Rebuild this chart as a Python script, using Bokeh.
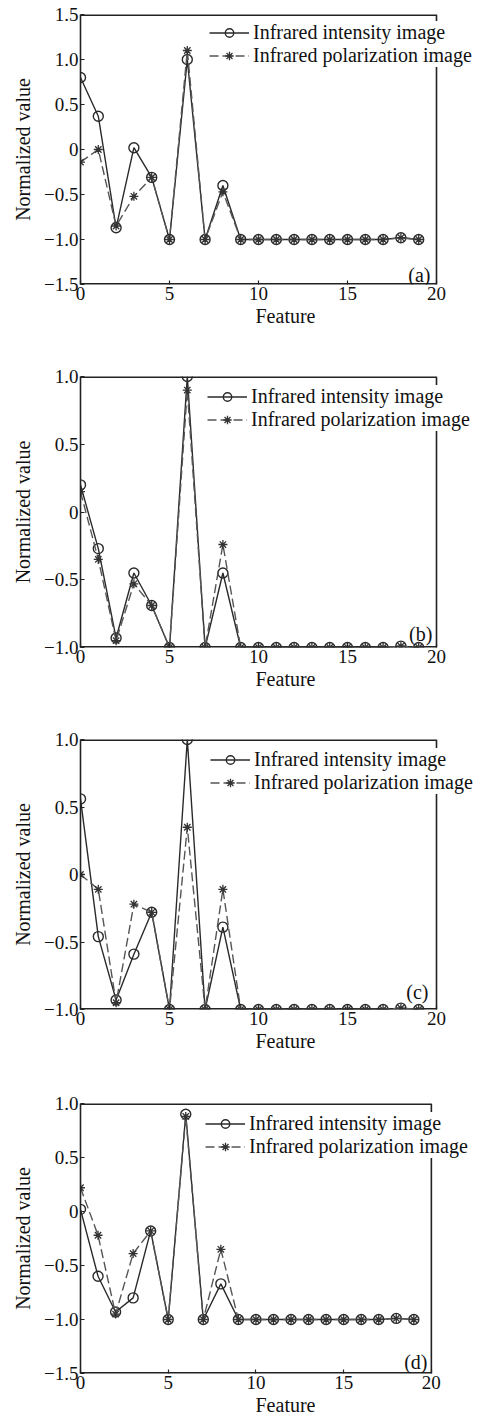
from bokeh.plotting import figure
from bokeh.layouts import column
from bokeh.models import Legend, LegendItem, Label, FixedTicker, Range1d
from bokeh.embed import file_html
from bokeh.resources import INLINE

features = list(range(20))
x_ticks = [0, 5, 10, 15, 20]

a_intensity = [0.80, 0.37, -0.87, 0.02, -0.31, -1.0, 1.0, -1.0, -0.40, -1.0,
               -1.0, -1.0, -1.0, -1.0, -1.0, -1.0, -1.0, -1.0, -0.98, -1.0]
a_polarization = [-0.14, 0.0, -0.85, -0.52, -0.31, -1.0, 1.10, -1.0, -0.47, -1.0,
                  -1.0, -1.0, -1.0, -1.0, -1.0, -1.0, -1.0, -1.0, -0.98, -1.0]

b_intensity = [0.20, -0.27, -0.93, -0.45, -0.69, -1.0, 1.0, -1.0, -0.45, -1.0,
               -1.0, -1.0, -1.0, -1.0, -1.0, -1.0, -1.0, -1.0, -0.99, -1.0]
b_polarization = [0.15, -0.35, -0.95, -0.53, -0.69, -1.0, 0.90, -1.0, -0.24, -1.0,
                  -1.0, -1.0, -1.0, -1.0, -1.0, -1.0, -1.0, -1.0, -0.99, -1.0]

c_intensity = [0.56, -0.46, -0.93, -0.59, -0.28, -1.0, 1.0, -1.0, -0.39, -1.0,
               -1.0, -1.0, -1.0, -1.0, -1.0, -1.0, -1.0, -1.0, -0.99, -1.0]
c_polarization = [0.0, -0.11, -0.95, -0.22, -0.28, -1.0, 0.35, -1.0, -0.11, -1.0,
                  -1.0, -1.0, -1.0, -1.0, -1.0, -1.0, -1.0, -1.0, -0.99, -1.0]

d_intensity = [0.02, -0.60, -0.93, -0.80, -0.18, -1.0, 0.90, -1.0, -0.67, -1.0,
               -1.0, -1.0, -1.0, -1.0, -1.0, -1.0, -1.0, -1.0, -0.99, -1.0]
d_polarization = [0.22, -0.22, -0.95, -0.39, -0.18, -1.0, 0.88, -1.0, -0.35, -1.0,
                  -1.0, -1.0, -1.0, -1.0, -1.0, -1.0, -1.0, -1.0, -0.99, -1.0]

ticks_a = [-1.5, -1.0, -0.5, 0, 0.5, 1.0, 1.5]
labels_a = ["\u22121.5", "\u22121.0", "\u22120.5", "0", "0.5", "1.0", "1.5"]
ticks_b = [-1.0, -0.5, 0, 0.5, 1.0]
labels_b = ["\u22121.0", "\u22120.5", "0", "0.5", "1.0"]
ticks_d = [-1.5, -1.0, -0.5, 0, 0.5, 1.0]
labels_d = ["\u22121.5", "\u22121.0", "\u22120.5", "0", "0.5", "1.0"]

series_names = ["Infrared intensity image", "Infrared polarization image"]
panel_tags = ["(a)", "(b)", "(c)", "(d)"]

FONT = "Liberation Serif"
INK = "#222222"
X_MAX = 20
PX_PER_UNIT = 17.8  # 356 px frame for 0..20


def make_panel(inten, polar, ylo, yhi, yticks, ylabels, tag, tag_x, tag_y,
               height, bl, bt, bb, legend_xy):
    fw = 490 - bl
    xr = fw / PX_PER_UNIT
    p = figure(width=492, height=height, output_backend="svg", toolbar_location=None,
               x_range=Range1d(0, xr), y_range=Range1d(ylo, yhi),
               min_border_left=bl, min_border_right=2,
               min_border_top=bt, min_border_bottom=bb)
    p.grid.visible = False
    p.outline_line_color = None
    p.background_fill_color = "white"
    p.border_fill_color = "white"

    for ax in (p.xaxis[0], p.yaxis[0]):
        ax.axis_line_color = INK
        ax.axis_line_width = 1.6
        ax.major_tick_in = 4
        ax.major_tick_out = 0
        ax.minor_tick_line_color = None
        ax.major_tick_line_color = INK
        ax.major_tick_line_width = 1.2
        ax.major_label_text_font = FONT
        ax.major_label_text_font_size = "19px"
        ax.major_label_text_color = "#111111"
        ax.axis_label_text_font = FONT
        ax.axis_label_text_font_size = "20px"
        ax.axis_label_text_font_style = "normal"
        ax.axis_label_text_color = "#111111"
        ax.major_label_standoff = 2

    p.xaxis.axis_line_color = None
    p.xaxis.ticker = FixedTicker(ticks=x_ticks)
    p.xaxis.axis_label = "Feature"
    p.xaxis.axis_label_standoff = 2
    p.yaxis.ticker = FixedTicker(ticks=yticks)
    p.yaxis.major_label_overrides = {t: l for t, l in zip(yticks, ylabels)}
    p.yaxis.axis_label = "Normalized value"
    p.yaxis.axis_label_standoff = 7

    # frame box bounded at x = 0..20
    p.segment(x0=[0, 0], y0=[ylo, yhi], x1=[X_MAX, X_MAX], y1=[ylo, yhi],
              line_color=INK, line_width=3.2)
    p.segment(x0=[X_MAX], y0=[ylo], x1=[X_MAX], y1=[yhi],
              line_color=INK, line_width=1.6)

    l1 = p.line(features, inten, line_color="#2a2a2a", line_width=1.4)
    s1 = p.scatter(features, inten, marker="circle", size=10, fill_color=None,
                   line_color="#2a2a2a", line_width=1.4)
    l2 = p.line(features, polar, line_color="#555555", line_width=1.4,
                line_dash="9 4")
    s2 = p.scatter(features, polar, marker="asterisk", size=9,
                   line_color="#333333", line_width=1.3)

    legend = Legend(items=[LegendItem(label=series_names[0], renderers=[l1, s1]),
                           LegendItem(label=series_names[1], renderers=[l2, s2])],
                    location=legend_xy, orientation="vertical",
                    border_line_color=None, background_fill_color="white",
                    background_fill_alpha=1.0,
                    label_text_font=FONT, label_text_font_size="20px",
                    label_text_color="#111111",
                    glyph_width=40, glyph_height=21, label_height=21,
                    label_standoff=4, spacing=0, padding=0, margin=0)
    p.add_layout(legend)

    p.add_layout(Label(x=tag_x, y=tag_y, text=tag, text_font=FONT,
                       text_font_size="20px", text_align="right",
                       text_baseline="middle", text_color="#111111"))
    return p


pa = make_panel(a_intensity, a_polarization, -1.5, 1.5, ticks_a, labels_a,
                panel_tags[0], 19.66, -1.39, 340, 80, 14, 56, (129, 217))
pb = make_panel(b_intensity, b_polarization, -1.0, 1.0, ticks_b, labels_b,
                panel_tags[1], 19.77, -0.90, 360, 80, 36, 53, (127, 216))
pc = make_panel(c_intensity, c_polarization, -1.0, 1.0, ticks_b, labels_b,
                panel_tags[2], 19.55, -0.87, 362, 80, 39, 53, (130, 215))
pd = make_panel(d_intensity, d_polarization, -1.5, 1.0, ticks_d, labels_d,
                panel_tags[3], 19.78, -1.39, 358, 74, 41, 47, (125, 215))

layout = column(pa, pb, pc, pd, spacing=0)
open("out.html", "w").write(file_html(layout, INLINE))
